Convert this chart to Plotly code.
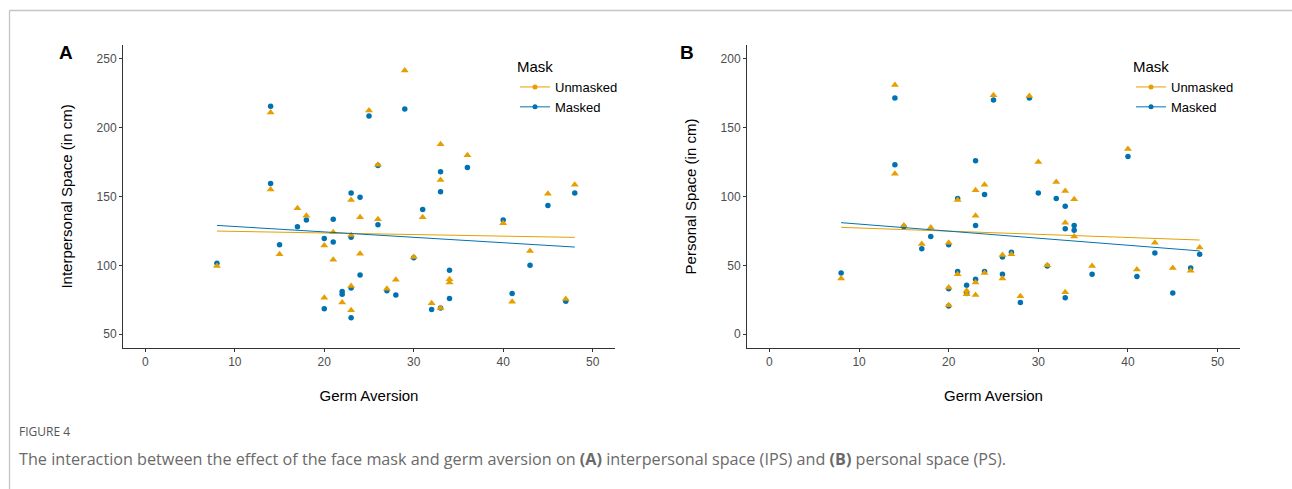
import plotly.graph_objects as go

W, H = 1292, 489
ORANGE = "#E69F00"
BLUE = "#0072B2"
FONT = "Liberation Sans, Arial, sans-serif"

# ---------------- Panel A: Interpersonal space (IPS) ----------------
ips_masked_x = [8, 14, 14, 15, 17, 18, 20, 20, 21, 21, 22, 22, 23, 23, 23, 23, 24, 24, 25, 26, 26,
                27, 28, 29, 30, 31, 32, 33, 33, 33, 34, 34, 36, 40, 41, 43, 45, 47, 48]
ips_masked_y = [101.5, 215.5, 159.5, 115, 128, 133, 119.5, 68.5, 133.5, 117, 81, 79, 152.5, 120.5, 83.5, 62,
                149.5, 93, 208.5, 172.5, 129.5, 81.5, 78.5, 213.5, 105.5, 140.5, 68, 168, 153.5, 69, 96.5,
                76, 171, 133, 79.5, 100, 143.5, 74, 152.5]
ips_unmasked_x = [8, 14, 14, 15, 17, 18, 20, 20, 21, 21, 22, 23, 23, 23, 23, 24, 24, 25, 26, 26,
                  27, 28, 29, 30, 31, 32, 33, 33, 33, 34, 34, 36, 40, 41, 43, 45, 47, 48]
ips_unmasked_y = [99.5, 211, 155, 108, 141.5, 136, 114.5, 76.5, 124, 104, 73, 147.5, 122, 85, 67.5, 135,
                  108.5, 212.5, 173, 133.5, 83, 89.5, 241.5, 106, 135, 72.5, 188, 162, 69, 90, 87.5, 180,
                  130.5, 73.5, 110.5, 152, 75.5, 158.5]
# fitted lines at germ aversion 8 and 48
fit_x = [8, 48]
ips_fit_masked = [129.0, 113.3]
ips_fit_unmasked = [124.9, 120.3]

# ---------------- Panel B: Personal space (PS) ----------------
ps_masked_x = [8, 14, 14, 15, 17, 18, 20, 20, 20, 21, 21, 22, 22, 23, 23, 23, 24, 24, 25, 26, 26,
               27, 28, 29, 30, 31, 32, 33, 33, 33, 34, 34, 36, 40, 41, 43, 45, 47, 48]
ps_masked_y = [44.5, 171.5, 123, 78, 62, 71, 65, 33, 20.5, 98.5, 45.5, 35.5, 29.5, 126, 79, 40, 101.5,
               45.5, 170, 56, 43.5, 59.5, 23, 171.5, 102.5, 49.5, 98.5, 93, 76.5, 26.5, 79, 75.5, 43.5,
               129, 42, 59, 30, 48, 58]
ps_unmasked_x = [8, 14, 14, 15, 17, 18, 20, 20, 20, 21, 21, 22, 22, 23, 23, 23, 23, 24, 24, 25, 26, 26,
                 27, 28, 29, 30, 31, 32, 33, 33, 33, 34, 34, 36, 40, 41, 43, 45, 47, 48]
ps_unmasked_y = [40.5, 181, 116.5, 79, 65.5, 77.5, 66.5, 34, 21, 97.5, 43.5, 31.5, 29, 104.5, 86, 37.5,
                 28.5, 108.5, 44.5, 173.5, 57.5, 40.5, 58, 27.5, 173, 125, 50, 110.5, 104, 81, 30.5, 98,
                 71, 49.5, 134.5, 47, 66.5, 48, 46, 63]
ps_fit_masked = [81.0, 60.5]
ps_fit_unmasked = [77.6, 68.4]

x_ticks = [0, 10, 20, 30, 40, 50]
ips_ticks = [50, 100, 150, 200, 250]
ps_ticks = [0, 50, 100, 150, 200]

fig = go.Figure()


def add_panel(xa, ya, leg, mx, my, ux, uy, fm, fu):
    fig.add_trace(go.Scatter(x=mx, y=my, mode="markers", xaxis=xa, yaxis=ya,
                             marker=dict(symbol="circle", size=5.5, color=BLUE),
                             showlegend=False, hoverinfo="x+y"))
    fig.add_trace(go.Scatter(x=ux, y=uy, mode="markers", xaxis=xa, yaxis=ya,
                             marker=dict(symbol="triangle-up", size=7, color=ORANGE),
                             showlegend=False, hoverinfo="x+y"))
    fig.add_trace(go.Scatter(x=fit_x, y=fu, mode="lines", xaxis=xa, yaxis=ya,
                             line=dict(color=ORANGE, width=1), showlegend=False))
    fig.add_trace(go.Scatter(x=fit_x, y=fm, mode="lines", xaxis=xa, yaxis=ya,
                             line=dict(color=BLUE, width=1), showlegend=False))
    # legend entries
    fig.add_trace(go.Scatter(x=[None], y=[None], mode="lines+markers", xaxis=xa, yaxis=ya,
                             name="Unmasked", legend=leg,
                             line=dict(color=ORANGE, width=1),
                             marker=dict(symbol="circle", size=5, color=ORANGE)))
    fig.add_trace(go.Scatter(x=[None], y=[None], mode="lines+markers", xaxis=xa, yaxis=ya,
                             name="Masked", legend=leg,
                             line=dict(color=BLUE, width=1),
                             marker=dict(symbol="circle", size=5, color=BLUE)))


add_panel("x", "y", "legend", ips_masked_x, ips_masked_y, ips_unmasked_x, ips_unmasked_y,
          ips_fit_masked, ips_fit_unmasked)
add_panel("x2", "y2", "legend2", ps_masked_x, ps_masked_y, ps_unmasked_x, ps_unmasked_y,
          ps_fit_masked, ps_fit_unmasked)

axis_common = dict(showline=True, linecolor="#333333", linewidth=1, ticks="outside", ticklen=3,
                   tickcolor="#333333", tickwidth=1, tickfont=dict(family=FONT, size=12, color="#4D4D4D"),
                   showgrid=False, zeroline=False)

ydom = [1 - 348 / H, 1 - 45 / H]
fig.update_layout(
    width=W, height=H, margin=dict(l=0, r=0, t=0, b=0),
    paper_bgcolor="white", plot_bgcolor="white",
    font=dict(family=FONT, color="black"),
    xaxis=dict(domain=[123 / W, 615 / W], range=[-2.5, 52.5], tickvals=x_ticks, anchor="y",
               title=dict(text="Germ Aversion", font=dict(size=15, color="black"), standoff=22),
               **axis_common),
    yaxis=dict(domain=ydom, range=[40, 260], tickvals=ips_ticks, anchor="x",
               title=dict(text="Interpersonal Space (in cm)", font=dict(size=15, color="black"), standoff=20),
               **axis_common),
    xaxis2=dict(domain=[747 / W, 1240 / W], range=[-2.5, 52.5], tickvals=x_ticks, anchor="y2",
                title=dict(text="Germ Aversion", font=dict(size=15, color="black"), standoff=22),
                **axis_common),
    yaxis2=dict(domain=ydom, range=[-10, 210], tickvals=ps_ticks, anchor="x2",
                title=dict(text="Personal Space (in cm)", font=dict(size=15, color="black"), standoff=20),
                **axis_common),
    legend=dict(x=515 / W, y=1 - 52.5 / H, xanchor="left", yanchor="top",
                title=dict(text="Mask", font=dict(size=15)), font=dict(size=13),
                bgcolor="rgba(0,0,0,0)", tracegroupgap=0, itemwidth=30),
    legend2=dict(x=1131 / W, y=1 - 52.5 / H, xanchor="left", yanchor="top",
                 title=dict(text="Mask", font=dict(size=15)), font=dict(size=13),
                 bgcolor="rgba(0,0,0,0)", tracegroupgap=0, itemwidth=30),
    shapes=[
        dict(type="line", xref="paper", yref="paper", x0=9.5 / W, x1=1, y0=1 - 10.5 / H, y1=1 - 10.5 / H,
             line=dict(color="#c4c4c4", width=1.3)),
        dict(type="line", xref="paper", yref="paper", x0=9.5 / W, x1=9.5 / W, y0=0, y1=1 - 10.5 / H,
             line=dict(color="#c4c4c4", width=1.3)),
    ],
    annotations=[
        dict(text="<b>A</b>", x=66 / W, y=1 - 52 / H, xref="paper", yref="paper", showarrow=False,
             xanchor="center", yanchor="middle", font=dict(size=19, color="black", family=FONT)),
        dict(text="<b>B</b>", x=687 / W, y=1 - 52 / H, xref="paper", yref="paper", showarrow=False,
             xanchor="center", yanchor="middle", font=dict(size=19, color="black", family=FONT)),
        dict(text="FIGURE 4", x=17 / W, y=1 - 431 / H, xref="paper", yref="paper", showarrow=False,
             xanchor="left", yanchor="middle", font=dict(size=12, color="#555555", family="Open Sans")),
        dict(text="The interaction between the effect of the face mask and germ aversion on <b>(A)</b> "
                  "interpersonal space (IPS) and <b>(B)</b> personal space (PS).",
             x=17 / W, y=1 - 459 / H, xref="paper", yref="paper", showarrow=False,
             xanchor="left", yanchor="middle", font=dict(size=16.2, color="#6a6a6a", family="Open Sans")),
    ],
)

fig.write_html("out.html", config={"displayModeBar": False},
               post_script="document.body.style.margin='0px';")
